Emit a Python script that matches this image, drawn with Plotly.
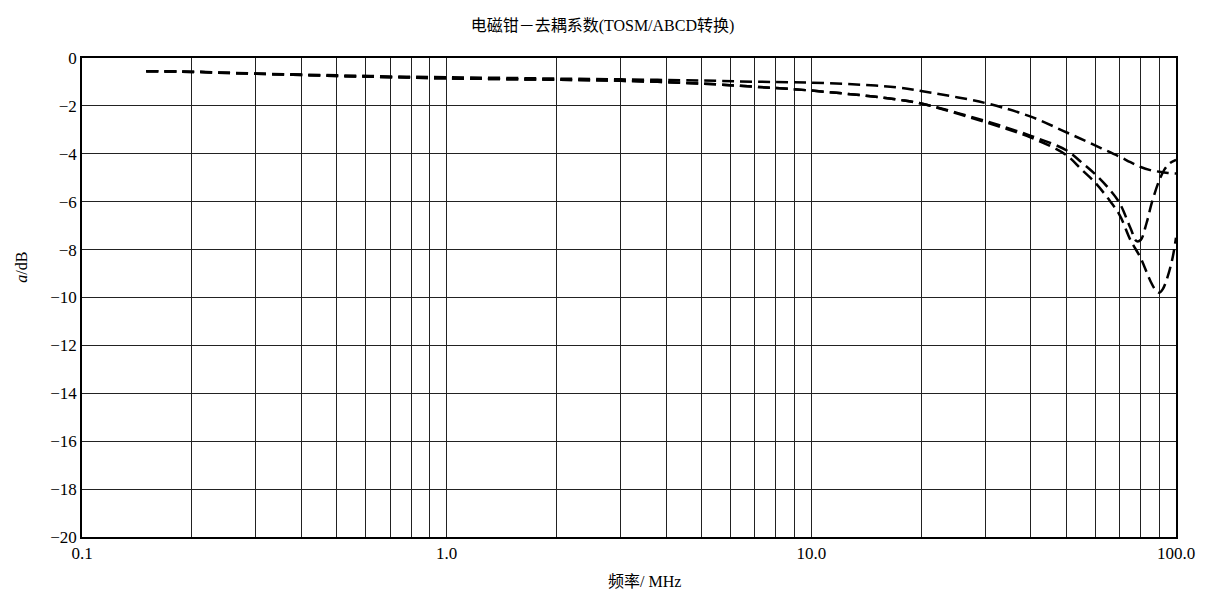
"""
    Decoupling factor of the electromagnetic clamp (TOSM/ABCD conversion)
"""

import plotly.graph_objs as go

# Upper curve
FREQ_1 = [0.15, 0.2, 0.3, 0.5, 0.7, 1, 2, 3, 5, 7, 10, 15, 17.5, 20, 30, 40, 50, 60,
          70, 75, 80, 85, 90, 95, 100]
ATT_1 = [-0.55, -0.57, -0.65, -0.72, -0.77, -0.8, -0.86, -0.89, -0.94, -0.99, -1.03,
         -1.15, -1.24, -1.38, -1.88, -2.45, -3.1, -3.65, -4.12, -4.35, -4.55, -4.68,
         -4.75, -4.8, -4.82]

# Lower curve with shallow notch
FREQ_2 = [0.15, 0.2, 0.3, 0.5, 0.7, 1, 2, 3, 5, 7, 10, 15, 17.5, 20, 30, 40, 50, 55,
          60, 65, 70, 75, 78, 80, 83, 86, 90, 93, 96, 100]
ATT_2 = [-0.55, -0.58, -0.66, -0.75, -0.8, -0.85, -0.91, -0.95, -1.07, -1.2, -1.36,
         -1.62, -1.75, -1.9, -2.63, -3.25, -3.85, -4.35, -4.85, -5.4, -6.05, -7.1,
         -7.65, -7.6, -6.9, -6.0, -5.1, -4.65, -4.4, -4.25]

# Lower curve with deep notch
FREQ_3 = [0.15, 0.2, 0.3, 0.5, 0.7, 1, 2, 3, 5, 7, 10, 15, 17.5, 20, 30, 40, 50, 55,
          60, 65, 70, 75, 80, 85, 88, 90, 92, 95, 98, 100]
ATT_3 = [-0.55, -0.58, -0.66, -0.75, -0.8, -0.85, -0.91, -0.95, -1.07, -1.2, -1.36,
         -1.62, -1.75, -1.9, -2.68, -3.32, -4.05, -4.65, -5.2, -5.85, -6.55, -7.6,
         -8.35, -9.3, -9.7, -9.8, -9.65, -9.1, -8.3, -7.5]

# Axis ticks
DECADES = [0.1, 1, 10, 100]
DECADE_LABELS = ["0.1", "1.0", "10.0", "100.0"]

FONT = "Liberation Serif, Noto Sans CJK SC, serif"


def log_grid():
    """Tick values at every 1..9 step of each decade, labels only on decades"""
    vals, text = [], []
    for d, lab in zip(DECADES[:-1], DECADE_LABELS[:-1]):
        for k in range(1, 10):
            vals.append(d * k)
            text.append(lab if k == 1 else "")
    vals.append(DECADES[-1])
    text.append(DECADE_LABELS[-1])
    return vals, text


data = []
for freq, att in [(FREQ_1, ATT_1), (FREQ_2, ATT_2), (FREQ_3, ATT_3)]:
    data.append(
        go.Scatter(
            x=freq,
            y=att,
            mode="lines",
            line={"color": "black", "width": 2.5, "dash": "12px,6px", "shape": "spline"},
            showlegend=False,
        )
    )

tickvals, ticktext = log_grid()

axis_common = {
    "ticks": "",
    "showgrid": True,
    "gridcolor": "#222",
    "gridwidth": 1,
    "showline": True,
    "linecolor": "black",
    "linewidth": 1.5,
    "mirror": True,
    "zeroline": False,
    "automargin": False,
    "tickfont": {"size": 17},
}

# the page body has an 8px margin, so the figure is sized to sit inside it
layout = go.Layout(
    title={
        "text": "电磁钳－去耦系数(TOSM/ABCD转换)",
        "x": 0.5,
        "xanchor": "center",
        "y": 0.971,
        "yanchor": "middle",
        "font": {"size": 16, "color": "black", "family": FONT},
    },
    width=1189,
    height=584,
    margin={"l": 74, "r": 21, "t": 50, "b": 55},
    paper_bgcolor="white",
    plot_bgcolor="white",
    font={"family": FONT, "color": "black", "size": 16},
    xaxis=dict(axis_common, type="log", range=[-1, 2], tickvals=tickvals, ticktext=ticktext),
    yaxis=dict(axis_common, range=[-20, 0], dtick=2),
    annotations=[
        # axis titles placed as in the original
        {
            "text": "频率/ MHz",
            "xref": "paper",
            "yref": "paper",
            "x": 0.514,
            "y": -0.092,
            "xanchor": "center",
            "yanchor": "middle",
            "showarrow": False,
            "font": {"size": 16},
        },
        {
            "text": "<i>a</i>/dB",
            "xref": "paper",
            "yref": "paper",
            "x": -0.055,
            "y": 0.564,
            "xanchor": "center",
            "yanchor": "middle",
            "textangle": -90,
            "showarrow": False,
            "font": {"size": 16},
        },
    ],
)

fig = go.Figure(data=data, layout=layout)
fig.write_html("out.html")
